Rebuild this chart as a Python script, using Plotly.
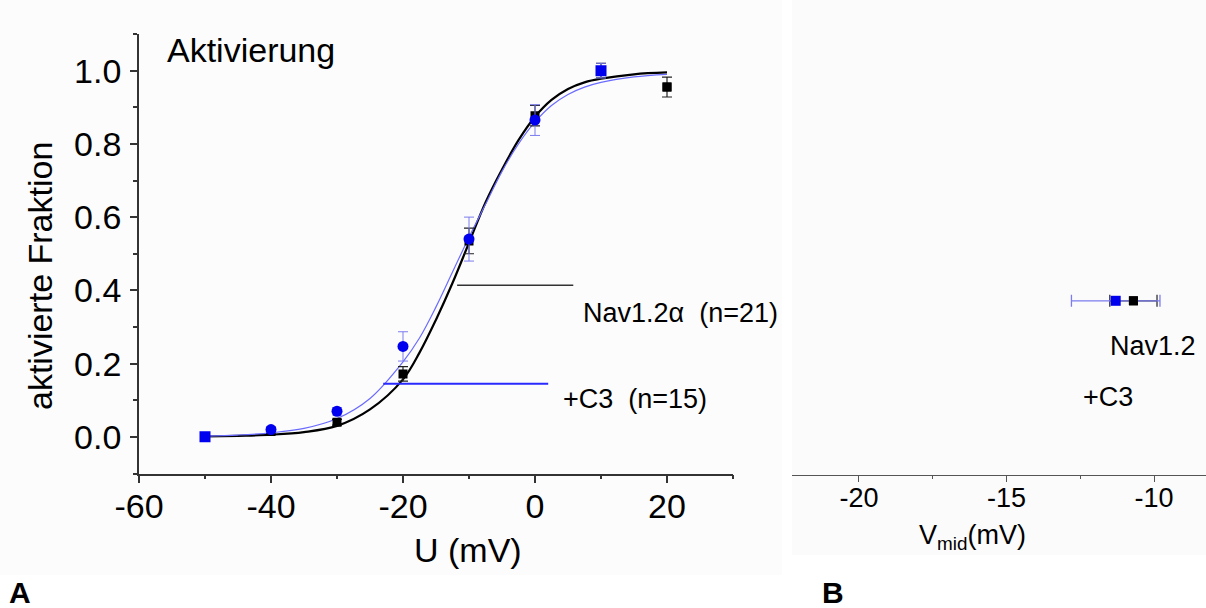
import plotly.graph_objects as go

# ---------------- data: panel A (activation) ----------------
voltages = [-50, -40, -30, -20, -10, 0, 10, 20]
nav_mean = [0.0, 0.015, 0.04, 0.172, 0.535, 0.877, 1.0, 0.955]
nav_err = [0.004, 0.005, 0.008, 0.02, 0.035, 0.028, 0.02, 0.027]
c3_mean = [0.0, 0.02, 0.07, 0.247, 0.54, 0.865, 1.0, None]
c3_err = [0.004, 0.008, 0.01, 0.04, 0.06, 0.042, 0.02, None]
c3_symbols = ["square", "circle", "circle", "circle", "circle", "circle", "square", "circle"]

x_ticks = [-60, -40, -20, 0, 20]
x_ticktext = ["-60", "-40", "-20", "0", "20"]
y_ticks = [0, 0.2, 0.4, 0.6, 0.8, 1.0]
y_ticktext = ["0.0", "0.2", "0.4", "0.6", "0.8", "1.0"]

# fitted curves
fit_v = [-50, -45, -40, -35, -30, -25, -20, -17.5, -15, -12.5, -10, -7.5, -5, -2.5,
         0, 2.5, 5, 7.5, 10, 15, 20]
nav_fit = [0.001, 0.003, 0.006, 0.013, 0.03, 0.075, 0.157, 0.23, 0.32, 0.42, 0.53,
           0.64, 0.73, 0.81, 0.874, 0.92, 0.95, 0.968, 0.978, 0.99, 0.995]
c3_fit = [0.002, 0.005, 0.011, 0.023, 0.05, 0.105, 0.205, 0.27, 0.355, 0.45, 0.545,
          0.635, 0.725, 0.80, 0.86, 0.905, 0.935, 0.955, 0.968, 0.983, 0.99]

# labelled horizontal lines
nav_line_x = [-11.8, 5.8]
nav_line_y = [0.414, 0.414]
c3_line_x = [-23.0, 2.0]
c3_line_y = [0.145, 0.145]

# ---------------- data: panel B (Vmid) ----------------
vmid_nav = -10.7
vmid_nav_err = 0.8
vmid_c3 = -11.3
vmid_c3_err = 1.5
b_ticks = [-20, -15, -10]
b_ticktext = ["-20", "-15", "-10"]

FONT = "Arial, Liberation Sans, sans-serif"
BLACK = "#000000"
BLUE = "#0000ee"
BLUE_LINE = "#6b6bff"
BLUE_ERR = "#7c7cf0"
AXIS = "#333333"

fig = go.Figure()

# fit curves
fig.add_trace(go.Scatter(x=fit_v, y=nav_fit, mode="lines", line=dict(color=BLACK, width=2.2, shape="spline", smoothing=1.0),
                         xaxis="x", yaxis="y", showlegend=False, hoverinfo="skip"))
fig.add_trace(go.Scatter(x=fit_v, y=c3_fit, mode="lines", line=dict(color=BLUE_LINE, width=1.2, shape="spline", smoothing=1.0),
                         xaxis="x", yaxis="y", showlegend=False, hoverinfo="skip"))

# horizontal lines
fig.add_trace(go.Scatter(x=nav_line_x, y=nav_line_y, mode="lines", line=dict(color=AXIS, width=1.6),
                         xaxis="x", yaxis="y", showlegend=False, hoverinfo="skip"))
fig.add_trace(go.Scatter(x=c3_line_x, y=c3_line_y, mode="lines", line=dict(color="#2a2aff", width=2),
                         xaxis="x", yaxis="y", showlegend=False, hoverinfo="skip"))

# data points
fig.add_trace(go.Scatter(x=voltages, y=nav_mean, mode="markers",
                         marker=dict(symbol="square", size=9, color=BLACK),
                         error_y=dict(type="data", array=nav_err, color="#222222", thickness=1.2, width=5),
                         xaxis="x", yaxis="y", showlegend=False))
fig.add_trace(go.Scatter(x=voltages, y=c3_mean, mode="markers",
                         marker=dict(symbol=c3_symbols, size=11, color=BLUE),
                         error_y=dict(type="data", array=c3_err, color=BLUE_ERR, thickness=1, width=5),
                         xaxis="x", yaxis="y", showlegend=False))
fig.add_trace(go.Scatter(x=voltages[-1:], y=nav_mean[-1:], mode="markers",
                         marker=dict(symbol="square", size=9, color=BLACK),
                         xaxis="x", yaxis="y", showlegend=False))

# panel B
YB = 0.395
fig.add_trace(go.Scatter(x=[vmid_nav], y=[YB], mode="markers",
                         marker=dict(symbol="square", size=9, color=BLACK),
                         error_x=dict(type="data", array=[vmid_nav_err], color="#222222", thickness=1.2, width=6),
                         xaxis="x2", yaxis="y2", showlegend=False))
fig.add_trace(go.Scatter(x=[vmid_c3], y=[YB], mode="markers",
                         marker=dict(symbol="square", size=10, color=BLUE),
                         error_x=dict(type="data", array=[vmid_c3_err], color=BLUE_ERR, thickness=1.3, width=6),
                         xaxis="x2", yaxis="y2", showlegend=False))
fig.add_trace(go.Scatter(x=[vmid_nav], y=[YB], mode="markers",
                         marker=dict(symbol="square", size=9, color=BLACK),
                         xaxis="x2", yaxis="y2", showlegend=False))

W, H = 1206, 608
xa0, xa1 = 139 / W, 733 / W
ya0, ya1 = (H - 473.5) / H, (H - 34) / H
xb0, xb1 = 792 / W, 1.0
yb0 = (H - 475) / H

fig.update_layout(
    width=W, height=H, autosize=False,
    margin=dict(l=0, r=0, t=0, b=0, pad=0),
    paper_bgcolor="white", plot_bgcolor="rgba(0,0,0,0)",
    font=dict(family=FONT, color="black"),
    xaxis=dict(domain=[xa0, xa1], range=[-60, 30], tickmode="array", tickvals=x_ticks, ticktext=x_ticktext,
               ticks="outside", ticklen=8, tickwidth=1.5, tickcolor=AXIS, automargin=False, ticklabelstandoff=-6,
               minor=dict(tickvals=[-50, -30, -10, 10, 30], ticks="outside", ticklen=4, tickwidth=1.5, tickcolor=AXIS),
               showline=True, linecolor=AXIS, linewidth=1.8, showgrid=False, zeroline=False,
               tickfont=dict(size=34, family=FONT, color="black"), anchor="y"),
    yaxis=dict(domain=[ya0, ya1], range=[-0.1, 1.1], tickmode="array", tickvals=y_ticks, ticktext=y_ticktext,
               ticks="outside", ticklen=7, tickwidth=1.5, tickcolor=AXIS, automargin=False, ticklabelstandoff=2,
               minor=dict(tickvals=[-0.1, 0.1, 0.3, 0.5, 0.7, 0.9, 1.1], ticks="outside", ticklen=4, tickwidth=1.5, tickcolor=AXIS),
               showline=True, linecolor=AXIS, linewidth=1.8, showgrid=False, zeroline=False,
               tickfont=dict(size=34, family=FONT, color="black"), anchor="x"),
    xaxis2=dict(domain=[xb0, xb1], range=[-22.27, -8.24], tickmode="array", tickvals=b_ticks, ticktext=b_ticktext,
                ticks="outside", ticklen=6, tickwidth=1.2, tickcolor="#555555", automargin=False, ticklabelstandoff=-8,
                minor=dict(tickvals=[-17.5, -12.5], ticks="outside", ticklen=3, tickwidth=1.2, tickcolor="#555555"),
                showline=True, linecolor="#555555", linewidth=1.3, showgrid=False, zeroline=False,
                tickfont=dict(size=27, family=FONT, color="black"), anchor="y2"),
    yaxis2=dict(domain=[yb0, ya1], range=[0, 1], visible=False, anchor="x2", automargin=False),
    shapes=[
        dict(type="rect", xref="paper", yref="paper", x0=0, x1=782 / W, y0=(H - 575) / H, y1=1,
             fillcolor="#fcfcfc", line=dict(width=0), layer="below"),
        dict(type="rect", xref="paper", yref="paper", x0=792 / W, x1=1, y0=(H - 555) / H, y1=1,
             fillcolor="#fbfbfb", line=dict(width=0), layer="below"),
    ],
    annotations=[
        dict(text="Aktivierung", x=-56.1, y=1.055, xref="x", yref="y", xanchor="left", yanchor="middle",
             showarrow=False, font=dict(size=34, family=FONT)),
        dict(text="Nav1.2\u03b1  (n=21)", x=7.0, y=0.337, xref="x", yref="y", xanchor="left", yanchor="middle",
             showarrow=False, font=dict(size=27, family=FONT)),
        dict(text="+C3  (n=15)", x=3.9, y=0.104, xref="x", yref="y", xanchor="left", yanchor="middle",
             showarrow=False, font=dict(size=27, family=FONT)),
        dict(text="aktivierte Fraktion", x=40 / W, y=(H - 276) / H, xref="paper", yref="paper",
             xanchor="center", yanchor="middle", textangle=-90, showarrow=False, font=dict(size=34, family=FONT)),
        dict(text="U (mV)", x=467.5 / W, y=(H - 550) / H, xref="paper", yref="paper",
             xanchor="center", yanchor="middle", showarrow=False, font=dict(size=34, family=FONT)),
        dict(text="Nav1.2", x=-10.05, y=0.2925, xref="x2", yref="y2", xanchor="center", yanchor="middle",
             showarrow=False, font=dict(size=27, family=FONT)),
        dict(text="+C3", x=-11.57, y=0.177, xref="x2", yref="y2", xanchor="center", yanchor="middle",
             showarrow=False, font=dict(size=27, family=FONT)),
        dict(text="V<sub>mid</sub>(mV)", x=972 / W, y=(H - 537) / H, xref="paper", yref="paper",
             xanchor="center", yanchor="middle", showarrow=False, font=dict(size=27, family=FONT)),
        dict(text="<b>A</b>", x=20 / W, y=(H - 592) / H, xref="paper", yref="paper",
             xanchor="center", yanchor="middle", showarrow=False, font=dict(size=30, family=FONT)),
        dict(text="<b>B</b>", x=833 / W, y=(H - 592) / H, xref="paper", yref="paper",
             xanchor="center", yanchor="middle", showarrow=False, font=dict(size=30, family=FONT)),
    ],
)

fig.write_html(
    "out.html",
    config={"displayModeBar": False},
    post_script="document.body.style.margin='0px';document.body.style.padding='0px';document.body.style.overflow='hidden';",
)
